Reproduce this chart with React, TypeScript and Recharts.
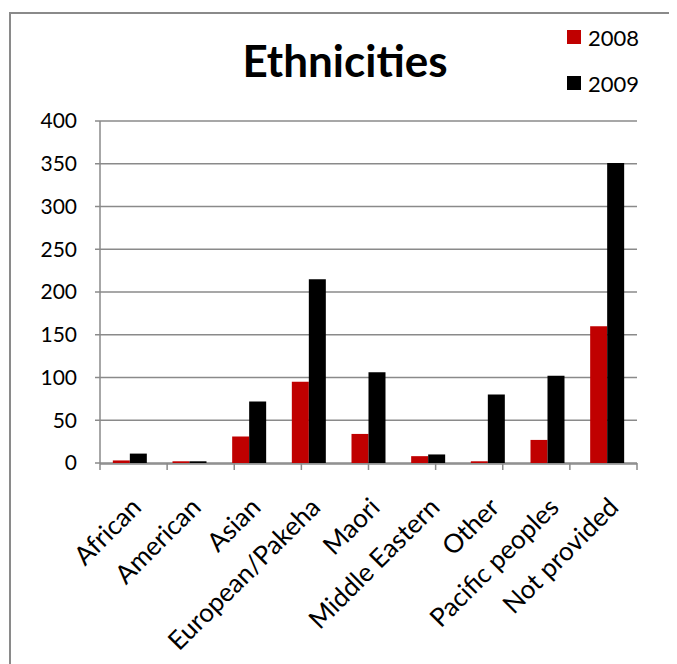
import React from "react";
import { BarChart, Bar, XAxis, YAxis, CartesianGrid, Legend } from "recharts";

const categories = [
  "African",
  "American",
  "Asian",
  "European/Pakeha",
  "Maori",
  "Middle Eastern",
  "Other",
  "Pacific peoples",
  "Not provided",
];
const values2008 = [3, 2, 31, 95, 34, 8, 2, 27, 160];
const values2009 = [11, 2, 72, 215, 106, 10, 80, 102, 351];
const yTicks = [0, 50, 100, 150, 200, 250, 300, 350, 400];
const boundaryTicks = [0, 1, 2, 3, 4, 5, 6, 7, 8, 9];
const seriesNames = ["2008", "2009"];
const seriesColors = ["#C00000", "#000000"];

const data = categories.map((name, i) => ({
  name,
  v2008: values2008[i],
  v2009: values2009[i],
}));

const FONT = "Lato, 'Open Sans', sans-serif";
const GRID = "#8a8a8a";

const XTick = (props: any) => {
  const { x, y, payload } = props;
  const ax = x + 13;
  const ay = y + 45;
  return (
    <text
      x={ax}
      y={ay}
      transform={`rotate(-45, ${ax}, ${ay})`}
      textAnchor="end"
      fill="#000"
      fontSize={26}
      fontFamily={FONT}
    >
      {payload.value}
    </text>
  );
};

const EmptyTick = () => <g />;

const renderLegend = (props: any) => {
  const { payload } = props;
  return (
    <div style={{ fontFamily: FONT, fontSize: 22, color: "#000" }}>
      {(payload || []).map((p: any, i: number) => (
        <div
          key={i}
          style={{ display: "flex", alignItems: "center", height: 30, marginBottom: 16 }}
        >
          <span
            style={{
              display: "inline-block",
              width: 14,
              height: 14,
              background: p.color,
              marginRight: 7,
            }}
          />
          <span>{p.value}</span>
        </div>
      ))}
    </div>
  );
};

export default function App() {
  return (
    <div style={{ position: "relative", width: 669, height: 656, overflow: "hidden", background: "#fff" }}>
      <div
        style={{
          position: "absolute",
          left: 1,
          top: 4,
          width: 664,
          height: 700,
          borderTop: `2px solid ${GRID}`,
          borderLeft: `2px solid ${GRID}`,
        }}
      />
      <svg
        width={669}
        height={100}
        style={{ position: "absolute", left: 0, top: 0 }}
      >
        <text
          x={337}
          y={69}
          textAnchor="middle"
          fontFamily={FONT}
          fontWeight="bold"
          fontSize={44}
          fill="#000"
        >
          Ethnicities
        </text>
      </svg>
      <div style={{ position: "absolute", left: 0, top: 0 }}>
        <BarChart
          width={669}
          height={656}
          data={data}
          margin={{ top: 113, right: 40, left: 0, bottom: 41 }}
          barCategoryGap="21.5%"
          barGap={0}
        >
          <CartesianGrid vertical={false} stroke={GRID} strokeWidth={1.5} />
          <XAxis
            xAxisId="bounds"
            type="number"
            domain={[0, 9]}
            ticks={boundaryTicks}
            height={1}
            tick={EmptyTick}
            tickSize={7}
            tickLine={{ stroke: GRID, strokeWidth: 1.5 }}
            axisLine={false}
          />
          <XAxis
            xAxisId="cat"
            dataKey="name"
            type="category"
            interval={0}
            height={159}
            tick={<XTick />}
            tickLine={false}
            tickSize={0}
            tickMargin={0}
            axisLine={{ stroke: GRID, strokeWidth: 1.5 }}
          />
          <YAxis
            width={92}
            domain={[0, 400]}
            ticks={yTicks}
            interval={0}
            tickSize={5}
            tickMargin={18}
            tick={{ fill: "#000", fontSize: 21, fontFamily: FONT }}
            tickLine={{ stroke: GRID, strokeWidth: 1.5 }}
            axisLine={{ stroke: GRID, strokeWidth: 1.5 }}
          />
          <Legend
            content={renderLegend}
            layout="horizontal"
            verticalAlign="middle"
            align="center"
            wrapperStyle={{ left: 559, top: 14, width: 100 }}
          />
          <Bar
            xAxisId="cat"
            dataKey="v2008"
            name={seriesNames[0]}
            fill={seriesColors[0]}
            isAnimationActive={false}
          />
          <Bar
            xAxisId="cat"
            dataKey="v2009"
            name={seriesNames[1]}
            fill={seriesColors[1]}
            isAnimationActive={false}
          />
        </BarChart>
      </div>
    </div>
  );
}
